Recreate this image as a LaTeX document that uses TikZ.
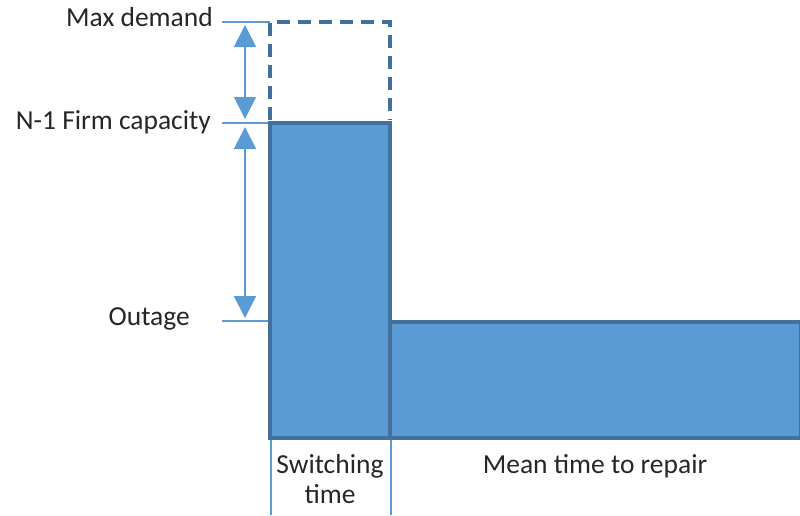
\documentclass[tikz,border=0pt]{standalone}
\usepackage{fontspec}
\setmainfont{Carlito}
\usetikzlibrary{arrows.meta}
\definecolor{barfill}{HTML}{5B9BD5}
\definecolor{barline}{HTML}{41719C}
\definecolor{guide}{HTML}{5B9BD5}
\definecolor{labeltext}{HTML}{262626}
\begin{document}
\begin{tikzpicture}[x=1pt,y=-1pt,
  bar/.style={fill=barfill,draw=barline,line width=3.2pt},
  guideline/.style={draw=guide,line width=1.7pt},
  dimarrow/.style={draw=guide,line width=1.7pt,
    {Triangle[width=22pt,length=22pt]}-{Triangle[width=22pt,length=22pt]}},
  lbl/.style={font=\fontsize{27.5}{30}\selectfont,text=labeltext,inner sep=0pt},
]
\useasboundingbox (0,0) rectangle (800,515);

% level guides
\coordinate (maxL) at (222,22);
\coordinate (maxR) at (270,22);
\coordinate (firmL) at (222,123);
\coordinate (firmR) at (270,123);
\coordinate (outL) at (222,321);
\coordinate (outR) at (270,321);
\draw[guideline] (maxL) -- (maxR);
\draw[guideline] (firmL) -- (firmR);
\draw[guideline] (outL) -- (outR);

% dimension arrows
\coordinate (a1t) at (245,25);
\coordinate (a1b) at (245,119);
\coordinate (a2t) at (245,127);
\coordinate (a2b) at (245,318);
\draw[dimarrow] (a1t) -- (a1b);
\draw[dimarrow] (a2t) -- (a2b);

% demand bars
\path[bar] (390,322) rectangle (801,438);
\path[bar] (270,123) rectangle (390,438);

% unserved demand
\draw[barline,line width=3.2pt,dash pattern=on 13pt off 8pt]
  (270,120) -- (270,22) -- (390,22) -- (390,120);

% time span markers
\coordinate (s1t) at (271,440);
\coordinate (s1b) at (271,515);
\coordinate (s2t) at (391,440);
\coordinate (s2b) at (391,515);
\draw[draw=guide,line width=1.6pt] (s1t) -- (s1b);
\draw[draw=guide,line width=1.6pt] (s2t) -- (s2b);

% labels
\node[lbl,anchor=base east] (tmax) at (213,26) {Max demand};
\node[lbl,anchor=base east] (tfirm) at (211,129) {N-1 Firm capacity};
\node[lbl,anchor=base east] (tout) at (190,325) {Outage};
\node[lbl,anchor=base] (tsw1) at (330,473) {Switching};
\node[lbl,anchor=base] (tsw2) at (330,503) {time};
\node[lbl,anchor=base] (trep) at (595,473) {Mean time to repair};
\end{tikzpicture}
\end{document}
